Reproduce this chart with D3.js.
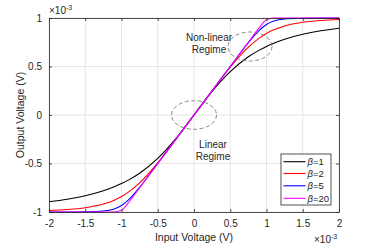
<!DOCTYPE html>
<html>
<head>
<meta charset="utf-8">
<script src="https://cdn.jsdelivr.net/npm/d3@7"></script>
<style>
  body { margin: 0; background: #fff; }
  text { font-family: "Liberation Sans", Arial, sans-serif; fill: #262626; }
</style>
</head>
<body>
<svg width="374" height="244"></svg>
<script>
// input voltage samples (x 1e-3 V)
const xs = [-2, -1.75, -1.5, -1.25, -1.1, -1, -0.9, -0.75, -0.5, -0.25, 0,
            0.25, 0.5, 0.75, 0.9, 1, 1.1, 1.25, 1.5, 1.75, 2];

// output voltage (x 1e-3 V)
const beta1 = [-0.894, -0.868, -0.832, -0.781, -0.740, -0.707, -0.669, -0.600, -0.447, -0.243, 0,
               0.243, 0.447, 0.600, 0.669, 0.707, 0.740, 0.781, 0.832, 0.868, 0.894];
const beta2 = [-0.985, -0.975, -0.956, -0.918, -0.878, -0.841, -0.793, -0.700, -0.493, -0.250, 0,
               0.250, 0.493, 0.700, 0.793, 0.841, 0.878, 0.918, 0.956, 0.975, 0.985];
const beta5 = [-1.0, -1.0, -0.998, -0.990, -0.968, -0.933, -0.873, -0.746, -0.500, -0.250, 0,
               0.250, 0.500, 0.746, 0.873, 0.933, 0.968, 0.990, 0.998, 1.0, 1.0];
const beta20 = [-1.0, -1.0, -1.0, -1.0, -1.0, -0.983, -0.900, -0.750, -0.500, -0.250, 0,
                0.250, 0.500, 0.750, 0.900, 0.983, 1.0, 1.0, 1.0, 1.0, 1.0];

const seriesNames = ['\u03b2=1', '\u03b2=2', '\u03b2=5', '\u03b2=20'];
const seriesColors = ['#000000', '#ff0000', '#0000ff', '#ff00ff'];
const seriesData = [beta1, beta2, beta5, beta20];

const xTicks = [-2, -1.5, -1, -0.5, 0, 0.5, 1, 1.5, 2];
const yTicks = [-1, -0.5, 0, 0.5, 1];

const svg = d3.select('svg');
const pLeft = 49, pRight = 339, pTop = 18, pBottom = 212;

const x = d3.scaleLinear().domain([-2, 2]).range([pLeft, pRight]);
const y = d3.scaleLinear().domain([-1, 1]).range([pBottom, pTop]);

// grid
const grid = svg.append('g');
grid.selectAll('.gx').data(xTicks).enter().append('line')
    .attr('x1', d => x(d)).attr('x2', d => x(d))
    .attr('y1', pTop).attr('y2', pBottom)
    .attr('stroke', '#e6e6e6').attr('stroke-width', 1);
grid.selectAll('.gy').data(yTicks).enter().append('line')
    .attr('y1', d => y(d)).attr('y2', d => y(d))
    .attr('x1', pLeft).attr('x2', pRight)
    .attr('stroke', '#e6e6e6').attr('stroke-width', 1);

// curves
const line = d3.line()
    .x((d, i) => x(xs[i]))
    .y(d => y(d))
    .curve(d3.curveMonotoneX);

svg.append('g').selectAll('path').data(seriesData).enter().append('path')
    .attr('d', d => line(d))
    .attr('fill', 'none')
    .attr('stroke', (d, i) => seriesColors[i])
    .attr('stroke-width', 1.1);

// axes (inward ticks, box)
const fmt = d => String(d);
const xAxis = d3.axisBottom(x).tickValues(xTicks).tickFormat(fmt).tickSizeInner(-3).tickSizeOuter(0).tickPadding(8);
const yAxis = d3.axisLeft(y).tickValues(yTicks).tickFormat(fmt).tickSizeInner(-3).tickSizeOuter(0).tickPadding(7);

svg.append('g').attr('transform', `translate(0, ${pBottom})`).call(xAxis);
svg.append('g').attr('transform', `translate(${pLeft}, 0)`).call(yAxis);
svg.append('g').attr('transform', `translate(0, ${pTop})`)
    .call(d3.axisTop(x).tickValues(xTicks).tickSizeInner(-3).tickSizeOuter(0).tickFormat(''));
svg.append('g').attr('transform', `translate(${pRight}, 0)`)
    .call(d3.axisRight(y).tickValues(yTicks).tickSizeInner(-3).tickSizeOuter(0).tickFormat(''));

svg.selectAll('.domain').attr('stroke', '#262626').attr('stroke-width', 0.8);
svg.selectAll('.tick line').attr('stroke', '#262626').attr('stroke-width', 0.8);
svg.selectAll('.tick text')
    .style('font-family', '"Liberation Sans", Arial, sans-serif')
    .style('font-size', '10px').attr('fill', '#262626');

// axis labels
svg.append('text').attr('x', (pLeft + pRight) / 2).attr('y', 241)
    .attr('text-anchor', 'middle').style('font-size', '10.5px').text('Input Voltage (V)');
svg.append('text').attr('transform', `translate(24, ${(pTop + pBottom) / 2}) rotate(-90)`)
    .attr('text-anchor', 'middle').style('font-size', '10.5px').text('Output Voltage (V)');

// exponent markers
function expo(xp, yp) {
  const t = svg.append('text').attr('x', xp).attr('y', yp).style('font-size', '10px');
  t.append('tspan').text('\u00d710');
  t.append('tspan').attr('dy', -4).style('font-size', '7px').text('-3');
}
expo(49, 14);
expo(314, 243);

// annotations
const ann = svg.append('g');
ann.append('ellipse').attr('cx', 250).attr('cy', 46.5).attr('rx', 22).attr('ry', 14.5)
    .attr('fill', 'none').attr('stroke', '#777').attr('stroke-width', 0.9).attr('stroke-dasharray', '4,2.5');
ann.append('ellipse').attr('cx', 194).attr('cy', 115).attr('rx', 22.5).attr('ry', 14.3)
    .attr('fill', 'none').attr('stroke', '#777').attr('stroke-width', 0.9).attr('stroke-dasharray', '4,2.5');

ann.append('text').attr('x', 209).attr('y', 41).attr('text-anchor', 'middle').style('font-size', '10px').text('Non-linear');
ann.append('text').attr('x', 209).attr('y', 53).attr('text-anchor', 'middle').style('font-size', '10px').text('Regime');
ann.append('text').attr('x', 213).attr('y', 148).attr('text-anchor', 'middle').style('font-size', '10px').text('Linear');
ann.append('text').attr('x', 213).attr('y', 160).attr('text-anchor', 'middle').style('font-size', '10px').text('Regime');

// legend
const lg = svg.append('g');
lg.append('rect').attr('x', 281).attr('y', 154).attr('width', 50).attr('height', 51)
    .attr('fill', '#fff').attr('stroke', '#262626').attr('stroke-width', 0.8);
const rowY = [161.7, 173.5, 185.8, 198.3];
seriesNames.forEach((name, i) => {
  lg.append('line').attr('x1', 283.5).attr('x2', 305.5).attr('y1', rowY[i]).attr('y2', rowY[i])
      .attr('stroke', seriesColors[i]).attr('stroke-width', 1.1);
  const t = lg.append('text').attr('x', 307.5).attr('y', rowY[i] + 3.5).style('font-size', '9.5px');
  t.append('tspan').style('font-style', 'italic').text(name.slice(0, 1));
  t.append('tspan').text(name.slice(1));
});
</script>
</body>
</html>
